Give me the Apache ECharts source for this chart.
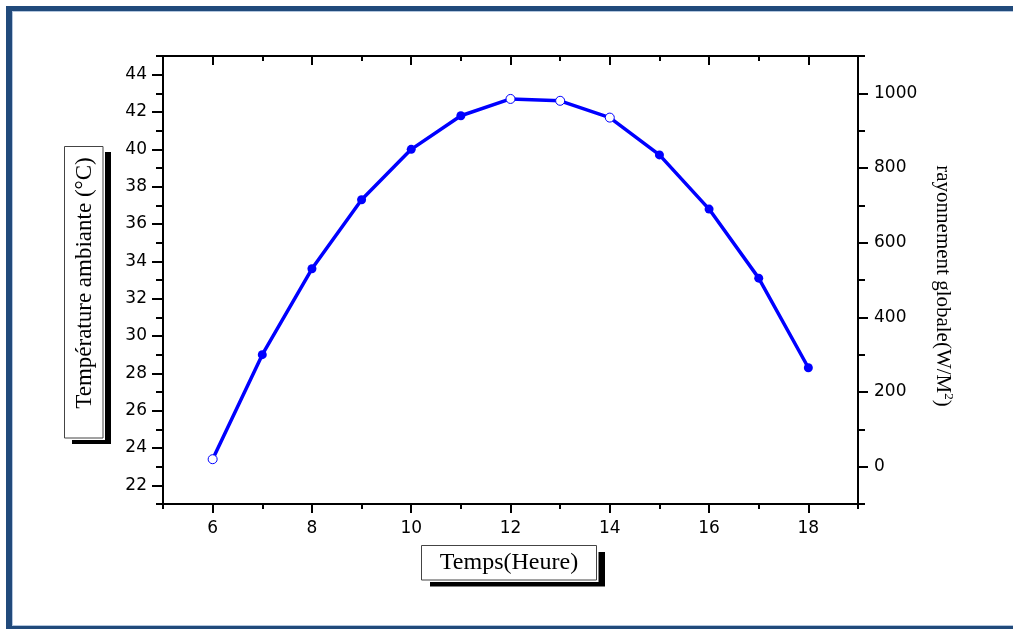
<!DOCTYPE html>
<html>
<head>
<meta charset="utf-8">
<script src="https://cdn.jsdelivr.net/npm/echarts@6/dist/echarts.min.js"></script>
<style>
html,body{margin:0;padding:0;background:#fff;}
#chart{width:1013px;height:629px;}
</style>
</head>
<body>
<div id="chart"></div>
<script>
// ---- data ----
var hours = [6, 7, 8, 9, 10, 11, 12, 13, 14, 15, 16, 17, 18];
var temperature = [23.4, 29.0, 33.6, 37.3, 40.0, 41.8, 42.7, 42.6, 41.7, 39.7, 36.8, 33.1, 28.3];
var hollowHours = [6, 12, 13, 14];
var xMajorTicks = [6, 8, 10, 12, 14, 16, 18];
var xMinorTicks = [5, 7, 9, 11, 13, 15, 17, 19];
var tempMajorTicks = [22, 24, 26, 28, 30, 32, 34, 36, 38, 40, 42, 44];
var tempMinorTicks = [21, 23, 25, 27, 29, 31, 33, 35, 37, 39, 41, 43, 45];
var radMajorTicks = [0, 200, 400, 600, 800, 1000];
var radMinorTicks = [-100, 100, 300, 500, 700, 900, 1100];
var xTitle = 'Temps(Heure)';
var leftTitle = 'Température ambiante (°C)';
var rightTitle = 'rayonnement globale(W/M';

var chart = echarts.init(document.getElementById('chart'), null, {renderer: 'canvas'});

var BLUE = '#0000ff';
var labelFont = {fontFamily: 'DejaVu Sans', fontSize: 17, color: '#000'};
var lineStyle = {color: '#000', width: 2};

function majorAxis(pos, min, max, majors, showLabels, inside, len) {
  return {
    type: 'value', position: pos, min: min, max: max,
    axisLine: {show: true, onZero: false, lineStyle: lineStyle},
    axisTick: {show: true, inside: inside, length: len, customValues: majors, lineStyle: lineStyle},
    axisLabel: showLabels ? Object.assign({
      show: true, margin: 16, customValues: majors,
      formatter: function (v) { return String(v); }
    }, labelFont) : {show: false},
    splitLine: {show: false},
    minorTick: {show: false}
  };
}
function minorAxis(pos, min, max, minors, inside, len) {
  return {
    type: 'value', position: pos, min: min, max: max,
    axisLine: {show: false, onZero: false},
    axisTick: {show: true, inside: inside, length: len, customValues: minors, lineStyle: lineStyle},
    axisLabel: {show: false},
    splitLine: {show: false}
  };
}

var seriesData = hours.map(function (h, i) {
  var item = {value: [h, temperature[i]]};
  if (hollowHours.indexOf(h) >= 0) {
    item.itemStyle = {color: '#ffffff', borderColor: BLUE, borderWidth: 1};
  }
  return item;
});

var option = {
  animation: false,
  backgroundColor: '#ffffff',
  grid: {left: 163, right: 155, top: 56, bottom: 125, containLabel: false},
  xAxis: [
    majorAxis('bottom', 5, 19, xMajorTicks, true, false, 9),
    minorAxis('bottom', 5, 19, xMinorTicks, false, 5),
    majorAxis('top', 5, 19, xMajorTicks, false, true, 9),
    minorAxis('top', 5, 19, xMinorTicks, true, 5)
  ],
  yAxis: [
    majorAxis('left', 21, 45, tempMajorTicks, true, false, 11),
    minorAxis('left', 21, 45, tempMinorTicks, false, 7),
    majorAxis('right', -100, 1100, radMajorTicks, true, false, 10),
    minorAxis('right', -100, 1100, radMinorTicks, false, 7)
  ],
  series: [{
    type: 'line',
    xAxisIndex: 0,
    yAxisIndex: 0,
    data: seriesData,
    symbol: 'circle',
    symbolSize: 9,
    showAllSymbol: true,
    lineStyle: {color: BLUE, width: 3.5},
    itemStyle: {color: BLUE},
    z: 3
  }],
  graphic: [
    // outer frame
    {type: 'rect', shape: {x: 6, y: 6, width: 1007, height: 5}, style: {fill: '#214a7b'}, z: 10},
    {type: 'rect', shape: {x: 12, y: 11, width: 1001, height: 1}, style: {fill: '#b3c6de'}, z: 10},
    {type: 'rect', shape: {x: 6, y: 6, width: 6, height: 623}, style: {fill: '#214a7b'}, z: 10},
    {type: 'rect', shape: {x: 12, y: 11, width: 1, height: 615}, style: {fill: '#b3c6de'}, z: 10},
    {type: 'rect', shape: {x: 6, y: 626, width: 1007, height: 3}, style: {fill: '#214a7b'}, z: 10},
    {type: 'rect', shape: {x: 12, y: 625, width: 1001, height: 1}, style: {fill: '#b3c6de'}, z: 10},
    // bottom title box
    {type: 'rect', shape: {x: 430, y: 552, width: 175, height: 34.5}, style: {fill: '#000'}, z: 10},
    {type: 'rect', shape: {x: 421.5, y: 545.5, width: 175, height: 34.5}, style: {fill: '#fff', stroke: '#fff', lineWidth: 4}, z: 11},
    {type: 'rect', shape: {x: 421.5, y: 545.5, width: 175, height: 34.5}, style: {fill: '#fff', stroke: '#444', lineWidth: 1}, z: 12},
    {type: 'text', x: 509, y: 563, style: {text: xTitle, fontFamily: 'Liberation Serif', fontSize: 24, fill: '#000', align: 'center', verticalAlign: 'middle'}, z: 13},
    // left title box
    {type: 'rect', shape: {x: 72, y: 152, width: 39, height: 292}, style: {fill: '#000'}, z: 10},
    {type: 'rect', shape: {x: 64.5, y: 146.5, width: 38.5, height: 291.5}, style: {fill: '#fff', stroke: '#fff', lineWidth: 4}, z: 11},
    {type: 'rect', shape: {x: 64.5, y: 146.5, width: 38.5, height: 291.5}, style: {fill: '#fff', stroke: '#444', lineWidth: 1}, z: 12},
    {type: 'text', x: 85, y: 283, rotation: Math.PI / 2, style: {text: leftTitle, fontFamily: 'Liberation Serif', fontSize: 23, fill: '#000', align: 'center', verticalAlign: 'middle'}, z: 13},
    // right title
    {type: 'text', x: 943, y: 286, rotation: -Math.PI / 2, style: {
      text: '{a|' + rightTitle + '}{s|2}{a|)}',
      align: 'center', verticalAlign: 'middle',
      rich: {
        a: {fontFamily: 'Liberation Serif', fontSize: 21, fill: '#000', color: '#000'},
        s: {fontFamily: 'Liberation Serif', fontSize: 13, fill: '#000', color: '#000', verticalAlign: 'top', padding: [0, 0, 10, 0]}
      }
    }, z: 13}
  ]
};
chart.setOption(option);
</script>
</body>
</html>
